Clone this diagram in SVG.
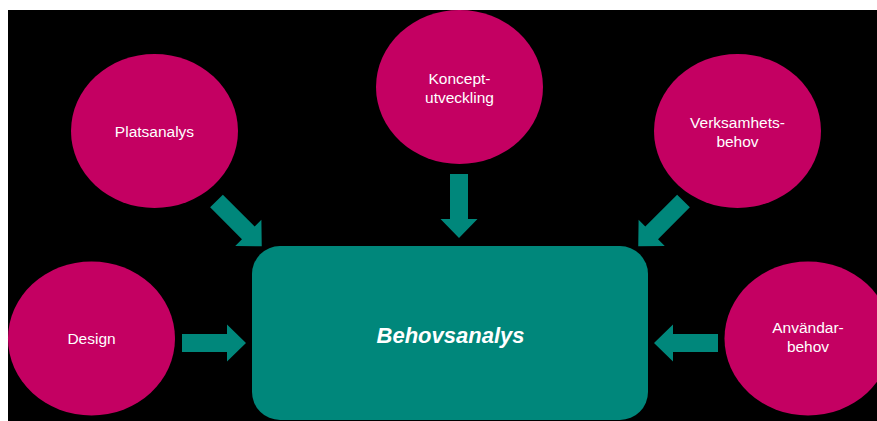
<svg xmlns="http://www.w3.org/2000/svg" width="877" height="421" viewBox="0 0 877 421">
  <style>
    .bub { fill: #C40062; }
    .lbl { font-family: "Liberation Sans", Arial, sans-serif; font-size: 15.5px; fill: #ffffff; text-anchor: middle; }
    .arr { fill: #00877B; }
    .main { fill: #00877B; }
    .title { font-family: "Liberation Sans", Arial, sans-serif; font-size: 22px; font-weight: bold; font-style: italic; fill: #ffffff; text-anchor: middle; }
  </style>
  <defs>
    <path id="arrow" d="M0,-9 L45,-9 L45,-18.5 L64,0 L45,18.5 L45,9 L0,9 Z"/>
  </defs>
  <rect x="0" y="0" width="877" height="421" fill="#ffffff"/>
  <rect x="8" y="10" width="869" height="411" fill="#000000"/>

  <g id="connectors">
    <use href="#arrow" class="arr" transform="translate(182,343)"/>
    <use href="#arrow" class="arr" transform="translate(718,343) rotate(180)"/>
    <use href="#arrow" class="arr" transform="translate(459,174) rotate(90)"/>
    <use href="#arrow" class="arr" transform="translate(216.5,201) rotate(45)"/>
    <use href="#arrow" class="arr" transform="translate(683.5,201) rotate(135)"/>
  </g>

  <g id="behovsanalys">
    <rect class="main" x="252" y="246" width="396" height="174" rx="28" ry="28"/>
    <text class="title" x="450.5" y="343">Behovsanalys</text>
  </g>

  <g id="platsanalys">
    <ellipse class="bub" cx="154.5" cy="131" rx="83.5" ry="77"/>
    <text class="lbl" x="154.5" y="137">Platsanalys</text>
  </g>

  <g id="konceptutveckling">
    <ellipse class="bub" cx="459.5" cy="87" rx="83.5" ry="77"/>
    <text class="lbl" x="459.5" y="84">Koncept-</text>
    <text class="lbl" x="459.5" y="103">utveckling</text>
  </g>

  <g id="verksamhetsbehov">
    <ellipse class="bub" cx="737.5" cy="131" rx="83.5" ry="77"/>
    <text class="lbl" x="737.5" y="128">Verksamhets-</text>
    <text class="lbl" x="737.5" y="147">behov</text>
  </g>

  <g id="design">
    <ellipse class="bub" cx="91.5" cy="338.5" rx="83.5" ry="77"/>
    <text class="lbl" x="91.5" y="344">Design</text>
  </g>

  <g id="anvandarbehov">
    <ellipse class="bub" cx="808" cy="338.5" rx="83.5" ry="77"/>
    <text class="lbl" x="808" y="333">Användar-</text>
    <text class="lbl" x="808" y="352">behov</text>
  </g>
</svg>
